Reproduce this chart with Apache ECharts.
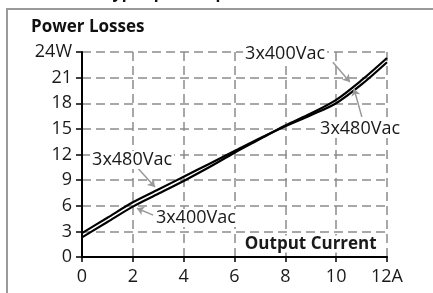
<!DOCTYPE html>
<html>
<head>
<meta charset="utf-8">
<script src="https://cdn.jsdelivr.net/npm/echarts@6/dist/echarts.min.js"></script>
<style>
  html, body { margin: 0; padding: 0; background: #fff; }
  #chart { width: 433px; height: 293px; }
</style>
</head>
<body>
<div id="chart"></div>
<script>
// output current (A)
const currents = [0, 1, 2, 3, 4, 5, 6, 7, 8, 9, 10, 11, 12]
// power losses (W)
const loss400 = [2.3, 4.1, 5.9, 7.4, 8.9, 10.5, 12.2, 13.8, 15.4, 16.8, 18.4, 20.7, 23.3]
const loss480 = [2.8, 4.6, 6.4, 7.9, 9.4, 10.9, 12.4, 13.9, 15.3, 16.6, 18.0, 20.2, 22.8]

const xTickLabels = ['0', '2', '4', '6', '8', '10', '12A']
const yTickLabels = ['0', '3', '6', '9', '12', '15', '18', '21', '24W']

const font = '"Open Sans", "Noto Sans", sans-serif'

const chart = echarts.init(document.getElementById('chart'))

const noteLabel = {
  show: true,
  position: 'inside',
  color: '#1a1a1a',
  fontSize: 18,
  fontFamily: font,
  backgroundColor: '#fff',
  padding: [0, 2],
  formatter: p => p.name
}

const arrowStyle = { color: '#999', type: 'solid', width: 1.5 }

function notePoint(name, coord) {
  return { name, coord, symbol: 'circle', symbolSize: 1, itemStyle: { color: 'rgba(0,0,0,0)' } }
}

chart.setOption({
  animation: false,
  grid: { left: 82, right: 46, top: 52, bottom: 36 },
  graphic: [
    { type: 'rect', shape: { x: 7, y: 9, width: 440, height: 300 }, style: { fill: 'none', stroke: '#9a9a9a', lineWidth: 2 } },
    { type: 'text', x: 195, y: -7, style: { text: 'typ, 3 phase operation', fontSize: 16, fontWeight: 'bold', fontFamily: font, fill: '#111', align: 'center', verticalAlign: 'middle' } },
    { type: 'text', x: 31, y: 27, style: { text: 'Power Losses', fontSize: 17, fontWeight: 'bold', fontFamily: font, fill: '#111', align: 'left', verticalAlign: 'middle' } }
  ],
  xAxis: {
    type: 'value',
    min: 0, max: 12, interval: 2,
    axisLine: { lineStyle: { color: '#000', width: 2 } },
    axisTick: { show: true, length: 5, lineStyle: { color: '#000', width: 1.5 } },
    axisLabel: {
      color: '#1a1a1a', fontSize: 18, fontFamily: font, margin: 11,
      formatter: v => xTickLabels[v / 2]
    },
    splitLine: { show: true, lineStyle: { color: '#8c8c8c', type: [9, 5], width: 1.5 } }
  },
  yAxis: {
    type: 'value',
    min: 0, max: 24, interval: 3,
    axisLine: { show: true, lineStyle: { color: '#000', width: 2 } },
    axisTick: { show: true, length: 6, lineStyle: { color: '#000', width: 1.5 } },
    axisLabel: {
      color: '#1a1a1a', fontSize: 18, fontFamily: font, margin: 10,
      formatter: v => yTickLabels[v / 3]
    },
    splitLine: { show: true, lineStyle: { color: '#8c8c8c', type: [9, 5], width: 1.5 } }
  },
  series: [
    {
      name: '3x400Vac',
      type: 'line',
      smooth: 0.3,
      symbol: 'none',
      data: currents.map((c, i) => [c, loss400[i]]),
      lineStyle: { color: '#000', width: 2.2 },
      markPoint: {
        silent: true,
        label: noteLabel,
        data: [
          notePoint('3x400Vac', [7.99, 23.8]),
          notePoint('3x400Vac', [4.48, 4.57])
        ]
      },
      markLine: {
        silent: true,
        symbol: ['none', 'arrow'],
        symbolSize: 7,
        label: { show: false },
        lineStyle: arrowStyle,
        data: [
          [{ coord: [9.87, 22.8] }, { coord: [10.54, 20.5] }],
          [{ coord: [2.8, 4.9] }, { coord: [2.16, 5.7] }]
        ]
      }
    },
    {
      name: '3x480Vac',
      type: 'line',
      smooth: 0.3,
      symbol: 'none',
      data: currents.map((c, i) => [c, loss480[i]]),
      lineStyle: { color: '#000', width: 2.2 },
      markPoint: {
        silent: true,
        label: noteLabel,
        data: [
          notePoint('3x480Vac', [10.94, 15.0]),
          notePoint('3x480Vac', [1.97, 11.36]),
          Object.assign(notePoint('Output Current', [9.0, 1.52]), {
            label: { fontWeight: 'bold', fontSize: 17 }
          })
        ]
      },
      markLine: {
        silent: true,
        symbol: ['none', 'arrow'],
        symbolSize: 7,
        label: { show: false },
        lineStyle: arrowStyle,
        data: [
          [{ coord: [11.01, 16.4] }, { coord: [10.7, 19.7] }],
          [{ coord: [2.2, 10.4] }, { coord: [2.87, 8.2] }]
        ]
      }
    }
  ]
})
</script>
</body>
</html>
